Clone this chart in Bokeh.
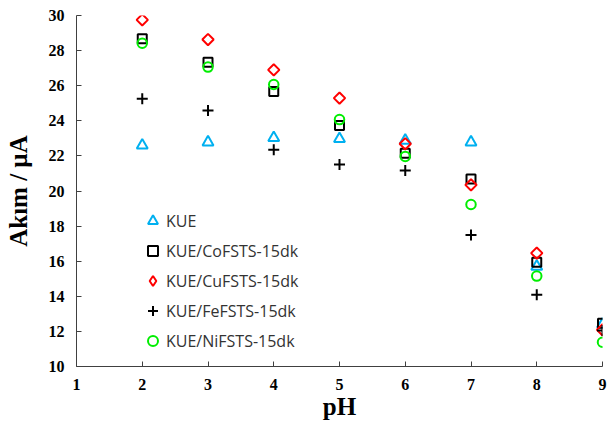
import math
from bokeh.plotting import figure
from bokeh.models import Legend, LegendItem, FixedTicker
from bokeh.embed import file_html
from bokeh.resources import INLINE

ph = [2, 3, 4, 5, 6, 7, 8, 9]
kue = [22.6, 22.78, 23.03, 22.97, 22.88, 22.78, 15.7, 12.4]
co = [28.67, 27.34, 25.67, 23.73, 22.15, 20.69, 15.94, 12.47]
cu = [29.75, 28.63, 26.9, 25.29, 22.69, 20.35, 16.46, 12.09]
fe = [25.25, 24.59, 22.35, 21.51, 21.17, 17.5, 14.09, 12.05]
ni = [28.42, 27.06, 26.07, 24.07, 21.97, 19.23, 15.15, 11.38]
names = ["KUE", "KUE/CoFSTS-15dk", "KUE/CuFSTS-15dk", "KUE/FeFSTS-15dk", "KUE/NiFSTS-15dk"]
x_ticks = [1, 2, 3, 4, 5, 6, 7, 8, 9]
y_ticks = [10, 12, 14, 16, 18, 20, 22, 24, 26, 28, 30]

p = figure(width=607, height=424, output_backend="svg", toolbar_location=None,
           x_range=(1, 9), y_range=(10, 30),
           frame_width=526, frame_height=351,
           min_border_left=76, min_border_top=15, min_border_right=5, min_border_bottom=58)
p.outline_line_color = None
p.grid.grid_line_color = None
p.background_fill_color = "white"
p.border_fill_color = "white"

for ax in (p.xaxis[0], p.yaxis[0]):
    ax.axis_line_color = "#404040"
    ax.major_tick_line_color = "#404040"
    ax.minor_tick_line_color = None
    ax.major_tick_in = 5
    ax.major_tick_out = 0
    ax.major_label_text_font = "Liberation Serif"
    ax.major_label_text_font_style = "bold"
    ax.major_label_text_font_size = "16px"
    ax.major_label_text_color = "black"
    ax.major_label_standoff = 12
    ax.axis_label_text_font = "Liberation Serif"
    ax.axis_label_text_font_style = "bold"
    ax.axis_label_text_font_size = "25px"
    ax.axis_label_text_color = "black"

p.xaxis.ticker = FixedTicker(ticks=x_ticks)
p.yaxis.ticker = FixedTicker(ticks=y_ticks)
p.xaxis.axis_label = "pH"
p.xaxis.axis_label_standoff = 0
p.yaxis.axis_label = "Akım / µA"
p.yaxis.axis_label_standoff = 14

r_kue = p.scatter(ph, kue, marker="triangle", size=11, fill_color=None, line_color="#00B0F0", line_width=2)
r_co = p.scatter(ph, co, marker="square", size=9, fill_color=None, line_color="black", line_width=2)
r_cu = p.scatter(ph, cu, marker="square", size=8, angle=math.pi / 4, fill_color=None, line_color="#FF0000", line_width=2)
r_fe = p.scatter(ph, fe, marker="cross", size=11, line_color="black", line_width=2)
r_ni = p.scatter(ph, ni, marker="circle", size=9.5, fill_color=None, line_color="#00EE00", line_width=2)

# legend-only glyph for the diamond (legend ignores marker angle); NaN point is never drawn on the plot
nan = float("nan")
r_cu_leg = p.scatter([nan], [nan], marker="diamond", size=11, fill_color=None, line_color="#FF0000", line_width=2)

items = [LegendItem(label=n, renderers=[r]) for n, r in zip(names, [r_kue, r_co, r_cu_leg, r_fe, r_ni])]
leg = Legend(items=items, location=(64, 13), border_line_color=None, background_fill_alpha=0,
             glyph_width=25, glyph_height=25, label_height=25, spacing=5, padding=0, margin=0,
             label_standoff=1, label_text_font="Open Sans", label_text_font_size="16px",
             label_text_color="#333333")
p.add_layout(leg, "center")

open("out.html", "w").write(file_html(p, INLINE))
